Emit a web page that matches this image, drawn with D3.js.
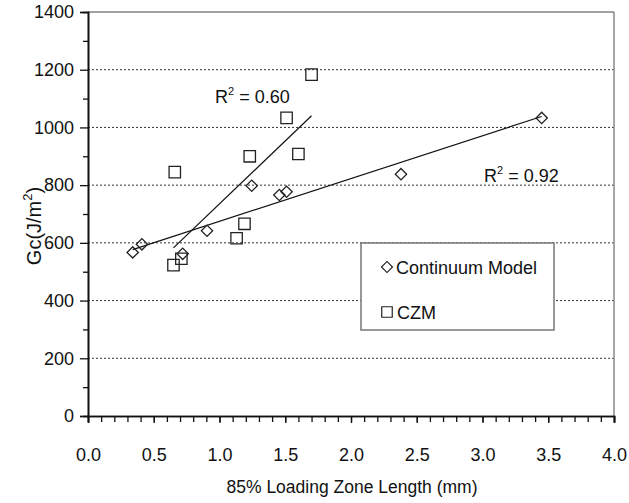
<!DOCTYPE html>
<html>
<head>
<meta charset="utf-8">
<script src="https://cdn.jsdelivr.net/npm/d3@7"></script>
<style>
body { margin: 0; background: #fff; }
svg text { font-family: "Liberation Sans", Arial, Helvetica, sans-serif; fill: #111; }
</style>
</head>
<body>
<div class="chart"></div>
<script>
// values
var contX = [0.34, 0.41, 0.72, 0.905, 1.245, 1.455, 1.51, 2.38, 3.45];
var contY = [567, 595, 562, 642, 798, 766, 777, 838, 1033];
var czmX = [0.65, 0.71, 0.66, 1.13, 1.19, 1.23, 1.60, 1.51, 1.70];
var czmY = [523, 545, 845, 616, 666, 900, 908, 1033, 1183];
var seriesNames = ["Continuum Model", "CZM"];
var r2Text = ["0.60", "0.92"];
var xTicks = [0, 0.5, 1, 1.5, 2, 2.5, 3, 3.5, 4];
var yTicks = [0, 200, 400, 600, 800, 1000, 1200, 1400];

var W = 629, H = 503;
var x = d3.scaleLinear().domain([0, 4]).range([88, 614]);
var y = d3.scaleLinear().domain([0, 1400]).range([416, 12]);

var svg = d3.select(".chart").append("svg")
    .attr("width", W).attr("height", H);

// gridlines (dotted)
svg.append("g").selectAll("line")
    .data(yTicks.filter(function(d){ return d > 0 && d < 1400; }))
    .enter().append("line")
    .attr("x1", x(0)).attr("x2", x(4))
    .attr("y1", function(d){ return y(d); })
    .attr("y2", function(d){ return y(d); })
    .attr("stroke", "#333").attr("stroke-width", 1)
    .attr("stroke-dasharray", "2,2");

// frame top + right
svg.append("line").attr("x1", x(0)).attr("x2", x(4)).attr("y1", y(1400)).attr("y2", y(1400))
    .attr("stroke", "#444").attr("stroke-width", 1);
svg.append("line").attr("x1", x(4)).attr("x2", x(4)).attr("y1", y(1400)).attr("y2", y(0))
    .attr("stroke", "#888").attr("stroke-width", 1.5);

// x axis
var xAxis = svg.append("g").attr("transform", "translate(0," + y(0) + ")");
xAxis.call(d3.axisBottom(x).tickValues(d3.range(0, 4.001, 0.1)).tickSize(6).tickFormat(""));
xAxis.append("g").call(d3.axisBottom(x).tickValues(xTicks).tickSize(7).tickPadding(25)
    .tickFormat(d3.format(".1f")));
xAxis.selectAll("text").style("font-size", "18px").attr("fill", "#111");
xAxis.selectAll("path").attr("stroke", "#111").attr("stroke-width", 1.6);
xAxis.selectAll("line").attr("stroke", "#111").attr("stroke-width", 1.3);

// y axis
var yAxis = svg.append("g").attr("transform", "translate(" + x(0) + ",0)");
yAxis.call(d3.axisLeft(y).tickValues(d3.range(100, 1400, 200)).tickSize(5).tickFormat(""));
yAxis.append("g").call(d3.axisLeft(y).tickValues(yTicks).tickSize(8).tickPadding(6)
    .tickFormat(d3.format("d")));
yAxis.selectAll("text").style("font-size", "18px").attr("fill", "#111");
yAxis.selectAll("path").attr("stroke", "#111").attr("stroke-width", 1.6);
yAxis.selectAll("line").attr("stroke", "#111").attr("stroke-width", 1.3);

// trend lines (least squares)
function fit(xs, ys) {
  var mx = d3.mean(xs), my = d3.mean(ys), sxy = 0, sxx = 0;
  xs.forEach(function(v, i){ sxy += (v - mx) * (ys[i] - my); sxx += (v - mx) * (v - mx); });
  var b = sxy / sxx, a = my - b * mx;
  var x0 = d3.min(xs), x1 = d3.max(xs);
  return [[x0, a + b * x0], [x1, a + b * x1]];
}
[fit(contX, contY), fit(czmX, czmY)].forEach(function(seg){
  svg.append("line")
    .attr("x1", x(seg[0][0])).attr("y1", y(seg[0][1]))
    .attr("x2", x(seg[1][0])).attr("y2", y(seg[1][1]))
    .attr("stroke", "#111").attr("stroke-width", 1.2);
});

// markers
var diamond = d3.symbol().type(d3.symbolSquare).size(64);
var square = d3.symbol().type(d3.symbolSquare).size(130);
var czmData = czmX.map(function(v, i){ return [v, czmY[i]]; });
var contData = contX.map(function(v, i){ return [v, contY[i]]; });

svg.append("g").selectAll("path").data(czmData).enter().append("path")
    .attr("d", square)
    .attr("transform", function(d){ return "translate(" + x(d[0]) + "," + y(d[1]) + ")"; })
    .attr("fill", "none").attr("stroke", "#222").attr("stroke-width", 1.3);
svg.append("g").selectAll("path").data(contData).enter().append("path")
    .attr("d", diamond)
    .attr("transform", function(d){ return "translate(" + x(d[0]) + "," + y(d[1]) + ") rotate(45)"; })
    .attr("fill", "none").attr("stroke", "#222").attr("stroke-width", 1.3);

// R^2 labels
function r2(px, py, val) {
  var t = svg.append("text").attr("x", px).attr("y", py).style("font-size", "18px");
  t.append("tspan").text("R");
  t.append("tspan").attr("dy", -8).style("font-size", "11px").text("2");
  t.append("tspan").attr("dy", 8).text(" = " + val);
}
r2(215, 103, r2Text[0]);
r2(484, 182, r2Text[1]);

// legend
var lg = svg.append("g");
lg.append("rect").attr("x", 361).attr("y", 243).attr("width", 193).attr("height", 87)
    .attr("fill", "#fff").attr("stroke", "#777").attr("stroke-width", 1.5);
lg.append("path").attr("d", d3.symbol().type(d3.symbolSquare).size(60))
    .attr("transform", "translate(387,267) rotate(45)")
    .attr("fill", "none").attr("stroke", "#222").attr("stroke-width", 1.2);
lg.append("text").attr("x", 396).attr("y", 274).style("font-size", "18px").text(seriesNames[0]);
lg.append("path").attr("d", d3.symbol().type(d3.symbolSquare).size(110))
    .attr("transform", "translate(387,312)")
    .attr("fill", "none").attr("stroke", "#222").attr("stroke-width", 1.2);
lg.append("text").attr("x", 397).attr("y", 319).style("font-size", "18px").text(seriesNames[1]);

// axis titles
svg.append("text").attr("x", 352).attr("y", 493).attr("text-anchor", "middle")
    .style("font-size", "17.5px").text("85% Loading Zone Length (mm)");
var yt = svg.append("text").attr("transform", "translate(41,226) rotate(-90)")
    .attr("text-anchor", "middle").style("font-size", "20px");
yt.append("tspan").text("Gc(J/m");
yt.append("tspan").attr("dy", -9).style("font-size", "13px").text("2");
yt.append("tspan").attr("dy", 9).text(")");
</script>
</body>
</html>
